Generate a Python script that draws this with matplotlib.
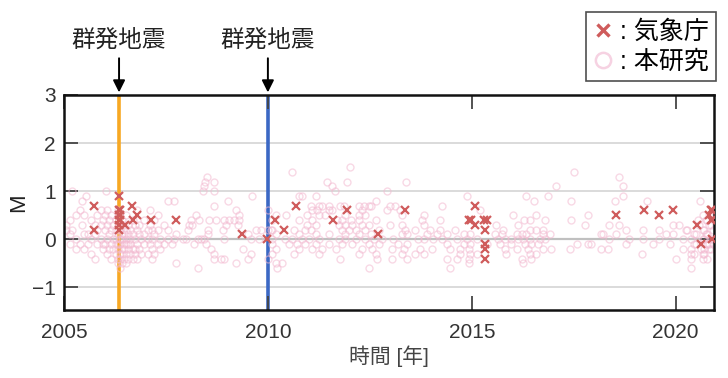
import numpy as np
import matplotlib
matplotlib.use("Agg")
import matplotlib.pyplot as plt
from matplotlib.lines import Line2D

plt.rcParams['font.family'] = ['Liberation Sans', 'Noto Sans CJK JP', 'DejaVu Sans']

# ---- data: this study (pink circles), years grouped by magnitude level ----
mag_levels = [1.5, 1.4, 1.3, 1.2, 1.1, 1.0, 0.9, 0.8, 0.7, 0.6, 0.5, 0.4, 0.3, 0.2, 0.1, 0.0,
              -0.1, -0.2, -0.3, -0.4, -0.5, -0.6]
r15 = [2012.01]
r14 = [2010.58, 2017.51]
r13 = [2008.51, 2018.60]
r12 = [2008.47, 2008.68, 2011.44, 2011.95, 2013.39]
r11 = [2008.44, 2011.58, 2017.07, 2018.72]
r10 = [2005.2, 2006.04, 2008.40, 2008.68, 2011.64, 2012.92]
r09 = [2005.54, 2009.62, 2010.76, 2010.84, 2011.18, 2014.88, 2016.34, 2016.87, 2018.72]
r08 = [2005.45, 2007.55, 2007.69, 2009.01, 2012.64, 2016.53, 2017.44, 2018.52, 2019.29, 2020.6]
r07 = [2008.68, 2011.05, 2011.25, 2011.33, 2011.5, 2011.78, 2011.86, 2012.23, 2012.36, 2012.47,
       2012.52, 2013.0, 2013.12, 2014.26]
r06 = [2005.4, 2005.9, 2006.05, 2006.33, 2006.8, 2007.1, 2009.22, 2010.0, 2011.09, 2011.21, 2011.5,
       2011.58, 2012.31, 2012.93, 2013.24, 2015.2]
r05 = [2005.3, 2005.5, 2005.8, 2006.0, 2006.15, 2006.38, 2006.53, 2007.3, 2008.24, 2009.3, 2010.2,
       2010.45, 2010.96, 2011.25, 2011.41, 2011.9, 2012.23, 2012.39, 2013.28, 2013.82, 2016.01,
       2016.58, 2017.84, 2020.66, 2020.82, 2020.92]
r04 = [2005.15, 2005.65, 2005.95, 2006.1, 2006.28, 2006.43, 2006.68, 2006.95, 2007.2, 2008.11,
       2008.32, 2008.56, 2008.73, 2008.93, 2009.05, 2009.17, 2009.3, 2010.1, 2010.76, 2011.09,
       2011.7, 2011.82, 2012.03, 2012.23, 2012.64, 2013.78, 2014.22, 2016.28, 2016.42, 2016.79,
       2017.44, 2020.54, 2020.74, 2020.78]
r03 = [2005.05, 2005.45, 2005.75, 2005.9, 2006.05, 2006.2, 2006.33, 2006.48, 2006.58, 2006.75,
       2006.85, 2007.1, 2007.45, 2008.07, 2008.15, 2008.97, 2009.26, 2010.96, 2011.17, 2011.74,
       2011.9, 2012.07, 2012.31, 2012.48, 2013.0, 2013.28, 2013.82, 2015.6, 2016.14, 2017.77,
       2018.37, 2018.6, 2019.93, 2020.09, 2020.58, 2020.82, 2020.86]
r02 = [2005.05, 2005.2, 2005.8, 2006.0, 2006.15, 2006.28, 2006.38, 2006.53, 2006.63, 2006.8,
       2007.05, 2007.15, 2007.3, 2007.55, 2008.03, 2008.52, 2008.89, 2009.71, 2009.83, 2010.0,
       2010.07, 2010.1, 2010.64, 2010.92, 2011.05, 2011.82, 2011.99, 2012.15, 2012.39, 2012.72,
       2013.37, 2013.61, 2013.98, 2014.22, 2014.59, 2015.77, 2016.42, 2016.58, 2016.75, 2018.78,
       2019.19, 2019.6, 2020.25, 2020.29, 2020.66, 2020.7, 2020.92]
r01 = [2005.15, 2005.5, 2005.6, 2005.75, 2006.1, 2006.33, 2006.43, 2006.48, 2006.58, 2006.68,
       2006.85, 2006.95, 2007.2, 2007.75, 2008.52, 2009.5, 2010.2, 2010.76, 2011.17, 2011.5,
       2011.9, 2012.23, 2012.52, 2013.28, 2013.41, 2013.9, 2014.14, 2014.39, 2014.8, 2014.96,
       2015.56, 2015.73, 2016.1, 2016.22, 2016.34, 2016.75, 2016.91, 2018.18, 2018.21, 2018.54,
       2019.76, 2019.93, 2020.45, 2020.5, 2020.74, 2020.78]
r00 = [2005.3, 2005.65, 2005.9, 2006.05, 2006.2, 2006.28, 2006.38, 2006.43, 2006.53, 2006.63,
       2006.75, 2006.9, 2007.05, 2007.15, 2007.35, 2007.55, 2007.7, 2007.91, 2007.99, 2008.28,
       2008.36, 2008.44, 2008.93, 2009.58, 2009.79, 2010.1, 2010.43, 2010.6, 2010.84, 2011.0,
       2011.25, 2011.74, 2011.9, 2012.15, 2012.39, 2012.6, 2012.8, 2013.08, 2013.69, 2013.82,
       2014.06, 2014.27, 2014.63, 2014.88, 2015.12, 2015.65, 2015.81, 2015.97, 2016.14, 2016.26,
       2016.42, 2016.67, 2016.79, 2018.37, 2018.86, 2019.19, 2019.6, 2020.17, 2020.38, 2020.66,
       2020.7, 2020.86, 2020.91]
rm01 = [2005.15, 2005.4, 2005.6, 2005.8, 2005.95, 2006.0, 2006.15, 2006.28, 2006.33, 2006.38,
        2006.48, 2006.53, 2006.58, 2006.63, 2006.8, 2006.95, 2007.1, 2007.3, 2007.45, 2007.65,
        2008.19, 2008.48, 2010.1, 2010.51, 2010.72, 2010.92, 2011.17, 2011.5, 2011.82, 2012.07,
        2012.48, 2012.72, 2013.2, 2013.41, 2014.39, 2014.8, 2014.96, 2015.37, 2015.69, 2015.97,
        2016.3, 2016.46, 2016.63, 2017.57, 2017.85, 2017.93, 2018.78, 2019.44, 2019.85, 2020.45,
        2020.5, 2020.78, 2020.82, 2020.92]
rm02 = [2005.3, 2005.5, 2005.95, 2006.1, 2006.2, 2006.33, 2006.43, 2006.48, 2006.58, 2006.68,
        2006.75, 2006.85, 2007.15, 2007.35, 2008.6, 2009.38, 2010.2, 2010.76, 2011.09, 2011.33,
        2011.66, 2012.31, 2012.56, 2013.04, 2013.33, 2013.73, 2014.02, 2014.47, 2014.71, 2014.92,
        2015.81, 2016.1, 2016.38, 2016.75, 2016.95, 2017.4, 2018.18, 2018.33, 2020.17, 2020.38,
        2020.62, 2020.7, 2020.82, 2020.86]
rm03 = [2005.65, 2006.05, 2006.28, 2006.38, 2006.43, 2006.53, 2006.63, 2006.75, 2006.9, 2007.05,
        2007.2, 2008.68, 2009.58, 2010.1, 2010.64, 2011.25, 2012.23, 2012.64, 2013.28, 2013.61,
        2013.82, 2014.71, 2014.96, 2015.12, 2015.85, 2016.42, 2016.58, 2019.17, 2020.38, 2020.45,
        2020.66, 2020.7]
rm04 = [2005.75, 2006.15, 2006.33, 2006.38, 2006.48, 2006.58, 2006.68, 2006.8, 2007.15, 2008.68,
        2008.85, 2008.93, 2009.5, 2010.0, 2011.78, 2012.68, 2013.04, 2013.41, 2014.39, 2014.63,
        2014.92, 2016.22, 2016.46, 2020.01, 2020.38, 2020.66, 2020.78]
rm05 = [2006.33, 2006.43, 2006.53, 2007.75, 2009.22, 2010.2, 2010.35, 2014.92, 2016.26]
rm06 = [2006.38, 2008.28, 2010.23, 2012.48, 2014.47, 2020.38]
years_by_level = [r15, r14, r13, r12, r11, r10, r09, r08, r07, r06, r05, r04, r03, r02, r01, r00,
                  rm01, rm02, rm03, rm04, rm05, rm06]

# ---- data: JMA catalogue (red crosses) ----
jma_t = [2005.74, 2005.74, 2006.34, 2006.34, 2006.38, 2006.35, 2006.38, 2006.34, 2006.38, 2006.36,
         2006.34, 2006.50, 2006.67, 2006.69, 2006.79, 2007.14, 2007.74, 2009.36, 2009.99, 2010.17,
         2010.39, 2010.68, 2011.60, 2011.94, 2012.69, 2013.37, 2014.93, 2015.07, 2015.07, 2014.97,
         2015.30, 2015.38, 2015.32, 2015.32, 2015.32, 2015.32, 2018.53, 2019.23, 2019.59, 2019.93,
         2020.53, 2020.61, 2020.86, 2020.90, 2020.82, 2020.86, 2020.90, 2020.88]
jma_m = [0.7, 0.2, 0.9, 0.6, 0.6, 0.5, 0.5, 0.4, 0.4, 0.3,
         0.2, 0.3, 0.7, 0.4, 0.5, 0.4, 0.4, 0.1, 0.0, 0.4,
         0.2, 0.7, 0.4, 0.6, 0.1, 0.6, 0.4, 0.7, 0.3, 0.4,
         0.4, 0.4, 0.2, -0.1, -0.2, -0.4, 0.5, 0.6, 0.5, 0.6,
         0.3, -0.1, 0.6, 0.6, 0.5, 0.4, 0.4, 0.0]

swarm_years = [2006.35, 2010.0]
swarm_colors = ['#f7a823', '#3b68c4']
swarm_label = '群発地震'
legend_labels = [': 気象庁', ': 本研究']
x_ticks = [2005, 2010, 2015, 2020]
y_ticks = [-1, 0, 1, 2, 3]
xlabel = '時間 [年]'
ylabel = 'M'

ours_t = []
ours_m = []
for lvl, ys in zip(mag_levels, years_by_level):
    ours_t.extend(ys)
    ours_m.extend([lvl] * len(ys))

fig = plt.figure(figsize=(7.28, 3.78), dpi=100)
ax = fig.add_axes([64 / 728, 1 - 310 / 378, 650 / 728, 215 / 378])

ax.set_xlim(2005, 2020.94)
ax.set_ylim(-1.47, 3)

for yv in [-1, 1, 2]:
    ax.axhline(yv, color='#d4d4d4', lw=1.2, zorder=0)
ax.axhline(0, color='#c0c0c0', lw=1.6, zorder=0)

for xv, c in zip(swarm_years, swarm_colors):
    ax.axvline(xv, color=c, lw=2.6, zorder=1)

ax.plot(ours_t, ours_m, linestyle='none', marker='o', markersize=5.0,
        markerfacecolor='none', markeredgecolor='#f3b9d0', markeredgewidth=1.0,
        alpha=0.55, zorder=2)
ax.plot(jma_t, jma_m, linestyle='none', marker='x', markersize=5.5,
        markeredgecolor='#cf5c5c', markeredgewidth=1.6, zorder=3)

ax.set_xticks(x_ticks)
ax.set_yticks(y_ticks)
ax.tick_params(axis='both', direction='in', length=10, width=1.3, color='#444444',
               labelsize=15, labelcolor='#333333', top=True, right=True)
ax.tick_params(axis='x', pad=9)
ax.tick_params(axis='y', pad=6)
for s in ax.spines.values():
    s.set_linewidth(1.8)
    s.set_color('#111111')

ax.set_xlabel(xlabel, fontsize=15, color='#444444', labelpad=3)
ax.set_ylabel(ylabel, fontsize=16, color='#222222', labelpad=2)

for xv in swarm_years:
    ax.annotate(swarm_label, xy=(xv, 1.012), xycoords=('data', 'axes fraction'),
                xytext=(xv, 1.255), textcoords=('data', 'axes fraction'),
                ha='center', va='center', fontsize=17, color='#222222',
                arrowprops=dict(arrowstyle='-|>', color='black', lw=1.4,
                                mutation_scale=18, shrinkA=3, shrinkB=0))

handles = [Line2D([], [], linestyle='none', marker='x', markersize=9,
                  markeredgecolor='#cf5c5c', markeredgewidth=2.4),
           Line2D([], [], linestyle='none', marker='o', markersize=11,
                  markerfacecolor='none', markeredgecolor='#f6d2e2', markeredgewidth=1.8)]
leg = fig.legend(handles, legend_labels, loc='upper right',
                 bbox_to_anchor=(716 / 728, 1 - 12 / 378), fontsize=18,
                 frameon=True, fancybox=False, handlelength=0.8, handletextpad=0.25,
                 borderpad=0.3, labelspacing=0.25, borderaxespad=0)
leg.get_frame().set_edgecolor('#222222')
leg.get_frame().set_linewidth(1.2)

fig.savefig('out.png', dpi=100)
